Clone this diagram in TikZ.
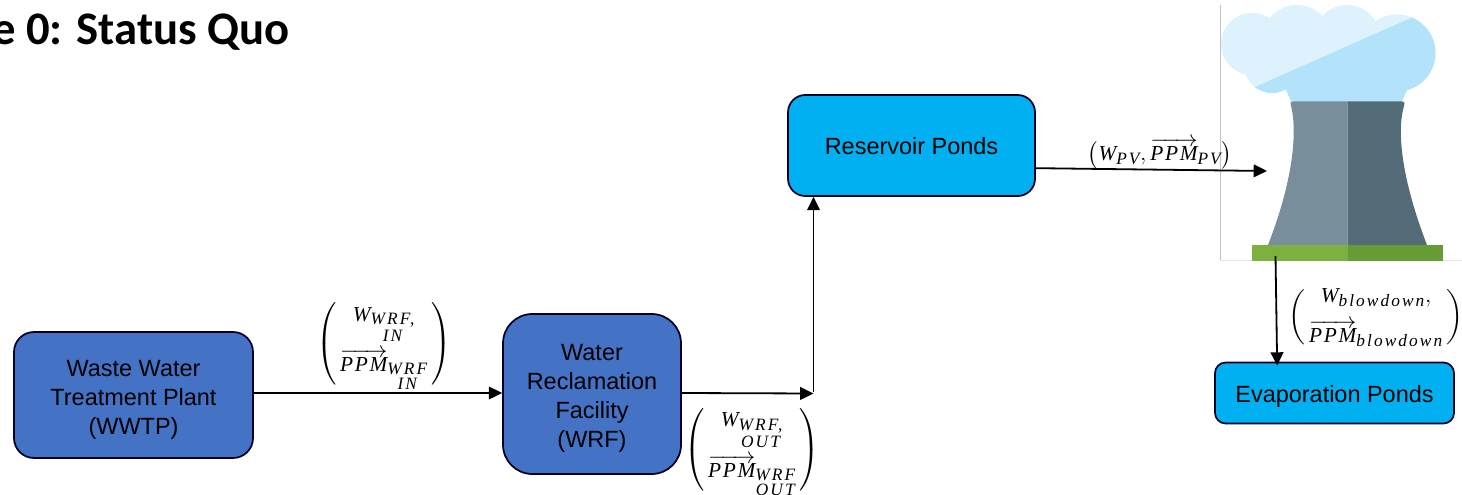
\documentclass[tikz,border=0pt]{standalone}
\usepackage{amsmath}
\usepackage{fontspec}
\setmainfont{Liberation Sans}
\newfontfamily\titlefont{Carlito}
\newfontfamily\mainletters[LetterSpace=8]{Liberation Serif}
\newfontfamily\subletters[LetterSpace=12]{Liberation Serif}
\usetikzlibrary{arrows.meta}
\DeclareMathSizes{17.28}{17.28}{12}{9}
\definecolor{bluedark}{HTML}{4472C4}
\definecolor{bluelight}{HTML}{00B0F0}
\definecolor{cloudA}{HTML}{DDF2FC}
\definecolor{cloudB}{HTML}{B3E3FA}
\definecolor{towerA}{HTML}{788E9B}
\definecolor{towerB}{HTML}{546C78}
\definecolor{baseA}{HTML}{7CB03F}
\definecolor{baseB}{HTML}{669C35}
\definecolor{frameline}{HTML}{C4C4C4}
\newcommand{\msize}{\fontsize{17.28}{20}\selectfont}
\newcommand{\mw}[1]{\text{\fontsize{16}{18}\selectfont\mainletters\itshape #1}}
\newcommand{\ms}[1]{\text{\fontsize{13}{15}\selectfont\subletters\itshape #1}}
\newcommand{\stacksub}[2]{\underset{\ms{#2}}{\ms{#1}}}
\newcommand{\tp}[1]{\rule{0pt}{#1}}
% paren pair of a fixed height round a smashed two-row stack
\newcommand{\paired}[4]{\left(\rule[#1]{0pt}{#2}\,\smash{\raisebox{#4}{$\begin{array}{@{}c@{}}#3\end{array}$}}\,\right)}
\tikzset{
  x=0.75pt,y=-0.75pt,
  procbox/.style={draw=black!85!blue,line width=1.3pt,fill=bluedark,align=center,font=\fontsize{17.6}{21.6}\selectfont,text=black,inner sep=0pt,anchor=center},
  pondbox/.style={procbox,fill=bluelight},
  flow/.style={draw=black,line width=1.35pt,-{Triangle[length=10pt,width=9.5pt]}},
  mathlabel/.style={font=\msize,inner sep=0pt,anchor=center,text=black},
}
\begin{document}
\begin{tikzpicture}
\useasboundingbox (0,0) rectangle (1462,495);
\clip (0,0) rectangle (1462,495);
% picture frame
\draw[frameline,line width=0.4pt] (1220,5) -- (1220,260);
\draw[black!10,line width=0.4pt] (1220,260) -- (1462,260);
% cloud
\def\cloudshape{
  (1252,44) circle[radius=31]
  (1297,40) circle[radius=35]
  (1347,38) circle[radius=33]
  (1397,53) circle[radius=38.5]
  (1272,65) circle[radius=28]
  (1292,103) -- (1285,88) -- (1262,60) -- (1400,30) -- (1430,60) -- (1408,88) -- (1401,103) -- cycle
}
\fill[cloudA] \cloudshape;
\begin{scope}
  \clip (1255,87) -- (1413,17) -- (1462,17) -- (1462,110) -- (1255,110) -- cycle;
  \fill[cloudB] \cloudshape;
\end{scope}
% tower
\fill[towerA] (1347.7,101.5) -- (1293,101.5) .. controls (1290,101.5) and (1290,104) .. (1291,106)
  .. controls (1296,125) and (1297,170) .. (1268,245) -- (1347.7,245) -- cycle;
\fill[towerB] (1347.7,101.5) -- (1402,101.5) .. controls (1405,101.5) and (1405,104) .. (1404,106)
  .. controls (1398,125) and (1398,170) .. (1427,245) -- (1347.7,245) -- cycle;
\fill[baseA] (1252,245) rectangle (1347.7,261);
\fill[baseB] (1347.7,245) rectangle (1443,261);
\coordinate (towerin) at (1267,171);
\coordinate (towerout) at (1275.5,256);
% title
\node[anchor=base west,inner sep=0pt,font=\titlefont\bfseries\fontsize{35}{40}\selectfont] (title) at (-8,45) {e 0: Status Quo};
% boxes
\node[procbox,rounded corners=15pt,minimum width=179.25pt,minimum height=94.5pt] (wwtp) at (133.5,395) {\tp{19pt}Waste Water\\Treatment Plant\\(WWTP)};
\node[procbox,rounded corners=22pt,minimum width=133.5pt,minimum height=120pt] (wrf) at (592,394) {\tp{18.5pt}Water\\Reclamation\\Facility\\(WRF)};
\node[pondbox,rounded corners=13pt,minimum width=185.25pt,minimum height=75.75pt] (res) at (911.5,145.5) {\tp{14.3pt}Reservoir Ponds};
\node[pondbox,rounded corners=8pt,minimum width=179.25pt,minimum height=45.75pt] (evap) at (1334.5,393) {\tp{17.3pt}Evaporation Ponds};
% connectors
\coordinate (junction) at (813.5,393.5);
\draw[flow] ([yshift=1.5pt]wwtp.east) -- ([yshift=0.75pt]wrf.west);
\draw[flow] ([yshift=0.75pt]wrf.east) -- (junction);
\draw[flow] ([yshift=1.5pt]junction) -- (junction |- res.south);
\draw[flow] ([yshift=-17pt]res.east) -- (towerin);
\draw[flow] (towerout) -- ([xshift=-43pt,yshift=-3pt]evap.north);
% math labels
\node[mathlabel] (lblin) at (384,344) {$\paired{-28.7pt}{66pt}{\mw{W}_{\stacksub{WRF,}{IN}}\\[15pt]\overrightarrow{\mw{PPM}}_{\stacksub{WRF}{IN}}}{-2pt}$};
\node[mathlabel] (lblout) at (752,450) {$\paired{-28.7pt}{66pt}{\mw{W}_{\stacksub{WRF,}{OUT}}\\[15pt]\overrightarrow{\mw{PPM}}_{\stacksub{WRF}{OUT}}}{-2pt}$};
\node[mathlabel] (lblpv) at (1160,155) {$\left(\rule[-6pt]{0pt}{20pt}\mw{W}_{\ms{PV}},\smash{\overrightarrow{\mw{PPM}}}_{\ms{PV}}\right)$};
\node[mathlabel] (lblblow) at (1376,317) {$\paired{-18.2pt}{45pt}{\mw{W}_{\ms{blowdown}},\\[7pt]\overrightarrow{\mw{PPM}}_{\ms{blowdown}}}{0pt}$};
\end{tikzpicture}
\end{document}
